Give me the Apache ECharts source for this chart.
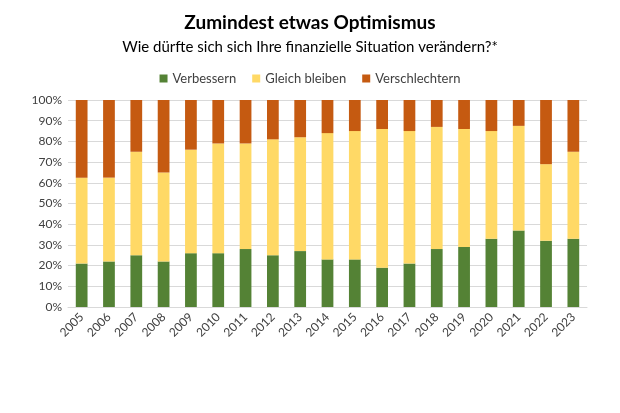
<!DOCTYPE html>
<html><head><meta charset="utf-8">
<script src="https://cdn.jsdelivr.net/npm/echarts@6/dist/echarts.min.js"></script>
<style>html,body{margin:0;padding:0;background:#fff}#c{width:620px;height:413px}</style>
</head><body><div id="c"></div>
<script>
const years = ['2005','2006','2007','2008','2009','2010','2011','2012','2013','2014','2015','2016','2017','2018','2019','2020','2021','2022','2023'];
const verbessern = [21,22,25,22,26,26,28,25,27,23,23,19,21,28,29,33,37,32,33];
const gleichBleiben = [41.5,40.5,50,43,50,53,51,56,55,61,62,67,64,59,57,52,50.5,37,42];
const verschlechtern = [37.5,37.5,25,35,24,21,21,19,18,16,15,14,15,13,14,15,12.5,31,25];
const yTicks = ['0%','10%','20%','30%','40%','50%','60%','70%','80%','90%','100%'];
const names = ['Verbessern','Gleich bleiben','Verschlechtern'];
const colors = ['#548235','#FFD966','#C55A11'];
const F = 'Lato, "Open Sans", sans-serif';
const chart = echarts.init(document.getElementById('c'));
chart.setOption({
  animation:false,
  color: colors,
  title: [
    {text:'Zumindest etwas Optimismus', left:'center', top:8, textStyle:{fontFamily:F, fontSize:19, fontWeight:'bold', color:'#000'}},
    {text:'Wie dürfte sich sich Ihre finanzielle Situation verändern?*', left:'center', top:35, textStyle:{fontFamily:F, fontSize:15, fontWeight:'normal', color:'#000'}}
  ],
  legend: {top:67, left:'center', itemWidth:8, itemHeight:8, itemGap:16, icon:'rect',
    textStyle:{fontFamily:F, fontSize:13, color:'#404040'}, data:names},
  grid: {left:68, right:33, top:100, bottom:106, containLabel:false},
  xAxis: {type:'category', data:years,
    axisLine:{lineStyle:{color:'#d9d9d9'}}, axisTick:{show:false},
    axisLabel:{rotate:45, fontFamily:F, fontSize:12, color:'#404040', margin:8}},
  yAxis: {type:'value', min:0, max:100, interval:10,
    axisLabel:{fontFamily:F, fontSize:12, color:'#404040', margin:6, formatter:(v)=>yTicks[Math.round(v/10)]},
    splitLine:{lineStyle:{color:'#d9d9d9'}}, axisLine:{show:false}, axisTick:{show:false}},
  series: [
    {name:names[0], type:'bar', stack:'a', barWidth:'43%', data:verbessern},
    {name:names[1], type:'bar', stack:'a', data:gleichBleiben},
    {name:names[2], type:'bar', stack:'a', data:verschlechtern}
  ]
});
</script></body></html>
